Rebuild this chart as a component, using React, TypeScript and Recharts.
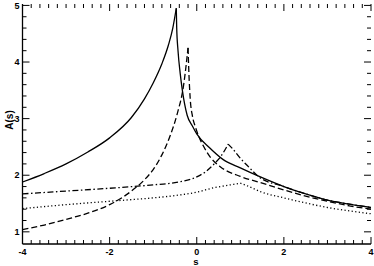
import { LineChart, Line, XAxis, YAxis, ReferenceLine } from "recharts";

// solid curve
const solidS = [-4, -3.5, -3, -2.5, -2, -1.5, -1.2, -1, -0.8, -0.65, -0.55, -0.47, -0.46, -0.43, -0.38, -0.33, -0.22, -0.1, 0, 0.3, 0.6, 1, 1.46, 2, 2.5, 3, 3.5, 4];
const solidA = [1.88, 2.03, 2.2, 2.41, 2.66, 3.02, 3.35, 3.63, 3.97, 4.3, 4.6, 4.95, 4.6, 4.2, 3.8, 3.5, 3.06, 2.87, 2.73, 2.48, 2.28, 2.13, 1.97, 1.8, 1.67, 1.56, 1.49, 1.43];

// dashed curve
const dashS = [-4, -3.5, -3, -2.5, -2, -1.5, -1.2, -1, -0.8, -0.6, -0.45, -0.3, -0.2, -0.18, -0.15, -0.1, -0.03, 0.05, 0.15, 0.31, 0.54, 1, 1.46, 2, 2.5, 3, 3.5, 4];
const dashA = [1.04, 1.12, 1.22, 1.33, 1.48, 1.72, 1.92, 2.1, 2.36, 2.72, 3.08, 3.6, 4.25, 3.8, 3.35, 3.05, 2.85, 2.68, 2.52, 2.32, 2.15, 1.98, 1.87, 1.74, 1.63, 1.54, 1.46, 1.4];

// dash-dot curve
const dashDotS = [-4, -3, -2, -1, -0.5, 0, 0.2, 0.4, 0.55, 0.65, 0.72, 0.82, 1, 1.2, 1.41, 2, 2.5, 3, 3.5, 4];
const dashDotA = [1.67, 1.72, 1.77, 1.83, 1.87, 1.97, 2.06, 2.2, 2.33, 2.45, 2.55, 2.47, 2.3, 2.14, 1.98, 1.8, 1.67, 1.56, 1.49, 1.43];

// dotted curve
const dotS = [-4, -3, -2, -1, -0.5, 0, 0.4, 0.7, 1, 1.2, 1.46, 2, 2.5, 3, 3.5, 4];
const dotA = [1.41, 1.48, 1.54, 1.6, 1.64, 1.7, 1.78, 1.82, 1.86, 1.8, 1.71, 1.6, 1.51, 1.43, 1.37, 1.32];

const xMajor = [-4, -2, 0, 2, 4];
const yMajor = [1, 2, 3, 4, 5];

const xTicks: number[] = [];
for (let i = -20; i <= 20; i++) xTicks.push(Math.round(i * 2) / 10);
const yTicks: number[] = [];
for (let i = 5; i <= 25; i++) yTicks.push(Math.round(i * 2) / 10);

const X_DOMAIN: [number, number] = [-4, 4];
const Y_DOMAIN: [number, number] = [0.785, 5.025];

const W = 374;
const H = 266;
const MARGIN = { top: 4, right: 3, bottom: 0, left: 0 };
const X_AXIS_H = 22;
const Y_AXIS_W = 22.5;

const FONT = "'Liberation Sans', Arial, Helvetica, sans-serif";
const INK = "#000";

// split each curve at its peak so the cusp stays sharp
function branches(s: number[], a: number[]) {
  const peak = a.indexOf(Math.max(...a));
  const pts = s.map((v, i) => ({ s: v, a: a[i] }));
  return [pts.slice(0, peak + 1), pts.slice(peak)];
}

const curves = [
  { name: "solid", parts: branches(solidS, solidA), dash: undefined },
  { name: "dash", parts: branches(dashS, dashA), dash: "6 3" },
  { name: "dashdot", parts: branches(dashDotS, dashDotA), dash: "6 2.5 1.5 2.5" },
  { name: "dot", parts: branches(dotS, dotA), dash: "1.2 2.4" },
];

// tick lengths in px, turned into data units so the ticks go through the axes' scales
const plotW = W - MARGIN.left - MARGIN.right - Y_AXIS_W;
const plotH = H - MARGIN.top - MARGIN.bottom - X_AXIS_H;
const xPerPx = (X_DOMAIN[1] - X_DOMAIN[0]) / plotW;
const yPerPx = (Y_DOMAIN[1] - Y_DOMAIN[0]) / plotH;
const tickLen = (major: boolean) => (major ? 7 : 4);

const bottomLabel = (props: any) => {
  const x = Number(props.x), y = Number(props.y), v = props.payload.value;
  if (!xMajor.includes(v)) return <g />;
  return (
    <text x={x} y={y + 11} textAnchor="middle" fontSize={9} fontWeight="bold" fontFamily={FONT} fill={INK}>
      {v}
    </text>
  );
};

const leftLabel = (props: any) => {
  const x = Number(props.x), y = Number(props.y), v = props.payload.value;
  if (!yMajor.includes(v)) return <g />;
  return (
    <text x={x - 3} y={y} dy="0.35em" textAnchor="end" fontSize={9} fontWeight="bold" fontFamily={FONT} fill={INK}>
      {v}
    </text>
  );
};

const axisLine = { stroke: INK, strokeWidth: 1.3 };

export default function App() {
  const tickMarks: any[] = [];
  xTicks.forEach((v) => {
    const d = tickLen(xMajor.includes(v)) * yPerPx;
    tickMarks.push(
      <ReferenceLine key={"xb" + v} xAxisId="b" yAxisId="l" ifOverflow="visible" stroke={INK} strokeWidth={1}
        segment={[{ x: v, y: Y_DOMAIN[0] }, { x: v, y: Y_DOMAIN[0] + d }]} />,
      <ReferenceLine key={"xt" + v} xAxisId="b" yAxisId="l" ifOverflow="visible" stroke={INK} strokeWidth={1}
        segment={[{ x: v, y: Y_DOMAIN[1] }, { x: v, y: Y_DOMAIN[1] - d }]} />
    );
  });
  yTicks.forEach((v) => {
    const d = tickLen(yMajor.includes(v)) * xPerPx;
    tickMarks.push(
      <ReferenceLine key={"yl" + v} xAxisId="b" yAxisId="l" ifOverflow="visible" stroke={INK} strokeWidth={1}
        segment={[{ x: X_DOMAIN[0], y: v }, { x: X_DOMAIN[0] + d, y: v }]} />,
      <ReferenceLine key={"yr" + v} xAxisId="b" yAxisId="l" ifOverflow="visible" stroke={INK} strokeWidth={1}
        segment={[{ x: X_DOMAIN[1], y: v }, { x: X_DOMAIN[1] - d, y: v }]} />
    );
  });

  return (
    <div style={{ position: "absolute", left: 0, top: 0, width: W, height: H, background: "#fff" }}>
      <LineChart width={W} height={H} margin={MARGIN}>
        <XAxis
          xAxisId="b"
          dataKey="s"
          type="number"
          domain={X_DOMAIN}
          ticks={xTicks}
          interval={0}
          allowDataOverflow
          height={X_AXIS_H}
          tickSize={0}
          tickMargin={0}
          tickLine={false}
          axisLine={axisLine}
          tick={bottomLabel}
        />
        <XAxis
          xAxisId="t"
          orientation="top"
          dataKey="s"
          type="number"
          domain={X_DOMAIN}
          allowDataOverflow
          height={0}
          tickLine={false}
          axisLine={axisLine}
          tick={false}
        />
        <YAxis
          yAxisId="l"
          type="number"
          domain={Y_DOMAIN}
          ticks={yTicks}
          interval={0}
          allowDataOverflow
          width={Y_AXIS_W}
          tickSize={0}
          tickMargin={0}
          tickLine={false}
          axisLine={axisLine}
          tick={leftLabel}
        />
        <YAxis
          yAxisId="r"
          orientation="right"
          type="number"
          domain={Y_DOMAIN}
          allowDataOverflow
          width={0}
          tickLine={false}
          axisLine={axisLine}
          tick={false}
        />
        {tickMarks}
        {curves.map((c) =>
          c.parts.map((part, i) => (
            <Line
              key={c.name + i}
              xAxisId="b"
              yAxisId="l"
              data={part}
              dataKey="a"
              type="monotone"
              stroke={INK}
              strokeWidth={1.3}
              strokeDasharray={c.dash}
              dot={false}
              activeDot={false}
              isAnimationActive={false}
            />
          ))
        )}
      </LineChart>
      <svg width={W} height={H} style={{ position: "absolute", left: 0, top: 0, pointerEvents: "none" }}>
        <text x={196} y={265} textAnchor="middle" fontSize={9.5} fontWeight="bold" fontFamily={FONT} fill={INK}>
          s
        </text>
        <text
          x={0}
          y={0}
          transform="translate(9,120) rotate(-90)"
          textAnchor="middle"
          dy="0.35em"
          fontSize={10}
          fontWeight="bold"
          fontFamily={FONT}
          fill={INK}
        >
          A(s)
        </text>
      </svg>
    </div>
  );
}
